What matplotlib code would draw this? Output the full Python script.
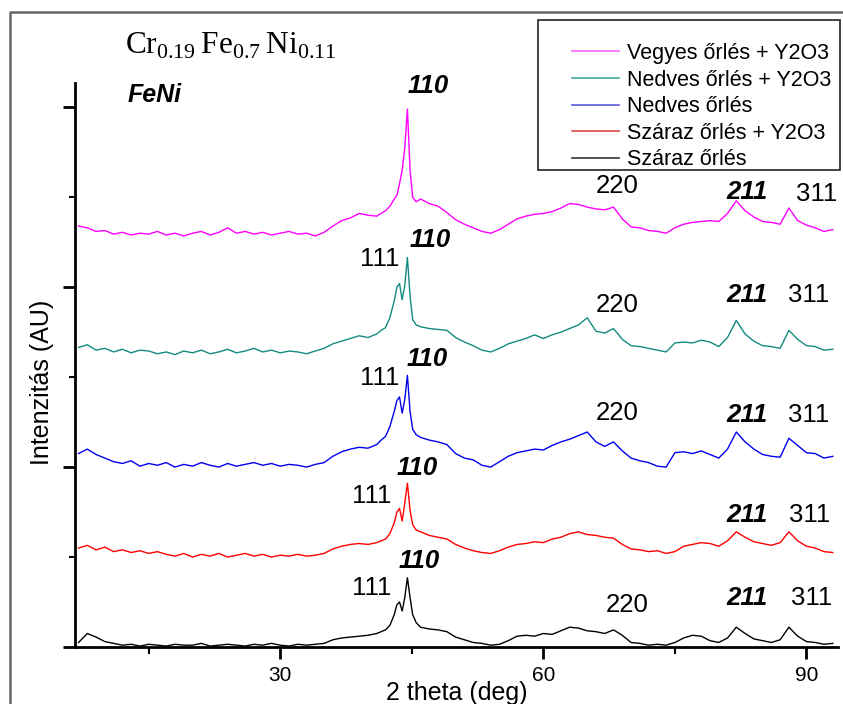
import matplotlib
matplotlib.use('Agg')
import matplotlib.pyplot as plt
from matplotlib.lines import Line2D
from matplotlib.patches import Rectangle

plt.rcParams['font.family'] = ['Liberation Sans', 'DejaVu Sans']
plt.rcParams['mathtext.fontset'] = 'custom'
plt.rcParams['mathtext.rm'] = 'Liberation Serif'

# 2 theta grid (deg), finer around the main peak
two_theta = list(range(7, 42)) + [41.5, 42, 42.5, 43, 43.3, 43.6, 43.9, 44.2, 44.5, 44.8, 45.1, 45.5, 46] + list(range(47, 94))

# intensities (AU, stacked)
szaraz = [0.05, 0.15, 0.11, 0.06, 0.04, 0.02, 0.03,
          0.01, 0.03, 0.02, 0.01, 0.03, 0.02, 0.02, 0.04, 0.01, 0.02,
          0.03, 0.02, 0.01, 0.03, 0.02, 0.04, 0.02, 0.01, 0.03, 0.02,
          0.03, 0.04, 0.08, 0.10, 0.11, 0.12, 0.13, 0.15,
          0.17, 0.19, 0.24, 0.36, 0.47, 0.50, 0.40, 0.55, 0.77, 0.55, 0.36, 0.27, 0.22,
          0.20, 0.19, 0.17, 0.11, 0.08, 0.05, 0.04, 0.02, 0.03, 0.07,
          0.12, 0.13, 0.12, 0.15, 0.14, 0.18, 0.22, 0.21, 0.18, 0.17,
          0.15, 0.19, 0.13, 0.05, 0.04, 0.02, 0.03, 0.02, 0.05, 0.10,
          0.13, 0.12, 0.07, 0.05, 0.10, 0.22, 0.15, 0.09, 0.07, 0.05,
          0.08, 0.22, 0.12, 0.06, 0.05, 0.03, 0.04]
szaraz_y2o3 = [1.10, 1.13, 1.08, 1.11, 1.06, 1.08, 1.05,
               1.07, 1.04, 1.06, 1.03, 1.01, 1.04, 1.00, 1.03, 1.01, 1.04,
               1.00, 1.02, 1.04, 1.01, 1.03, 1.00, 1.02, 1.01, 1.03, 1.01,
               1.02, 1.04, 1.09, 1.12, 1.14, 1.15, 1.14, 1.16,
               1.18, 1.20, 1.26, 1.38, 1.50, 1.54, 1.40, 1.60, 1.82, 1.52, 1.36, 1.30, 1.28,
               1.24, 1.22, 1.20, 1.14, 1.10, 1.07, 1.05, 1.04, 1.07, 1.11,
               1.14, 1.15, 1.17, 1.16, 1.20, 1.22, 1.26, 1.28, 1.25, 1.24,
               1.22, 1.21, 1.14, 1.09, 1.08, 1.06, 1.07, 1.04, 1.06, 1.12,
               1.14, 1.16, 1.15, 1.12, 1.18, 1.28, 1.22, 1.17, 1.15, 1.13,
               1.16, 1.28, 1.18, 1.12, 1.10, 1.06, 1.05]
nedves = [2.15, 2.20, 2.14, 2.10, 2.06, 2.04, 2.07,
          2.01, 2.04, 2.02, 2.05, 2.00, 2.03, 2.01, 2.05, 2.02, 2.00,
          2.04, 2.01, 2.03, 2.05, 2.02, 2.04, 2.01, 2.03, 2.02, 2.00,
          2.03, 2.05, 2.12, 2.17, 2.20, 2.22, 2.21, 2.25,
          2.30, 2.34, 2.45, 2.62, 2.74, 2.78, 2.60, 2.75, 3.02, 2.62, 2.42, 2.36, 2.33,
          2.30, 2.28, 2.25, 2.15, 2.10, 2.08, 2.02, 2.00, 2.06, 2.12,
          2.16, 2.18, 2.20, 2.19, 2.24, 2.28, 2.31, 2.35, 2.39, 2.28,
          2.23, 2.28, 2.18, 2.10, 2.07, 2.05, 2.01, 2.00, 2.16, 2.17,
          2.15, 2.18, 2.14, 2.10, 2.20, 2.39, 2.28, 2.20, 2.14, 2.12,
          2.11, 2.32, 2.24, 2.16, 2.15, 2.10, 2.12]
nedves_y2o3 = [3.33, 3.36, 3.30, 3.32, 3.28, 3.31, 3.27,
               3.30, 3.29, 3.26, 3.28, 3.25, 3.29, 3.27, 3.30, 3.26, 3.28,
               3.31, 3.27, 3.29, 3.32, 3.28, 3.30, 3.27, 3.29, 3.28, 3.26,
               3.29, 3.32, 3.37, 3.40, 3.43, 3.46, 3.44, 3.48,
               3.52, 3.55, 3.66, 3.85, 4.00, 4.04, 3.86, 4.02, 4.33, 3.90, 3.64, 3.58, 3.56,
               3.54, 3.53, 3.52, 3.44, 3.39, 3.35, 3.30, 3.28, 3.32, 3.37,
               3.40, 3.43, 3.47, 3.43, 3.47, 3.50, 3.54, 3.58, 3.66, 3.51,
               3.49, 3.54, 3.42, 3.35, 3.34, 3.32, 3.30, 3.28, 3.38, 3.39,
               3.38, 3.41, 3.39, 3.34, 3.44, 3.63, 3.48, 3.40, 3.35, 3.34,
               3.32, 3.52, 3.42, 3.35, 3.34, 3.30, 3.31]
vegyes_y2o3 = [4.68, 4.66, 4.62, 4.63, 4.59, 4.61, 4.58,
               4.60, 4.59, 4.62, 4.58, 4.60, 4.57, 4.60, 4.62, 4.58, 4.61,
               4.66, 4.60, 4.62, 4.59, 4.61, 4.58, 4.60, 4.62, 4.59, 4.60,
               4.57, 4.61, 4.68, 4.74, 4.77, 4.82, 4.80, 4.79,
               4.82, 4.85, 4.90, 4.98, 5.02, 5.15, 5.30, 5.55, 5.98, 5.30, 5.00, 4.95, 4.98,
               4.93, 4.90, 4.83, 4.75, 4.70, 4.66, 4.62, 4.60, 4.64, 4.70,
               4.76, 4.79, 4.81, 4.82, 4.84, 4.88, 4.93, 4.92, 4.89, 4.87,
               4.86, 4.89, 4.76, 4.67, 4.66, 4.63, 4.62, 4.60, 4.66, 4.70,
               4.72, 4.73, 4.74, 4.73, 4.82, 4.96, 4.85, 4.78, 4.73, 4.72,
               4.70, 4.88, 4.74, 4.69, 4.66, 4.62, 4.64]

series = [
    ('Vegyes őrlés + Y2O3', vegyes_y2o3, '#ff00ff', '#ff66ff'),
    ('Nedves őrlés + Y2O3', nedves_y2o3, '#138a80', '#40a89c'),
    ('Nedves őrlés', nedves, '#0000ee', '#5a5ae0'),
    ('Száraz őrlés + Y2O3', szaraz_y2o3, '#ff0000', '#e04a4a'),
    ('Száraz őrlés', szaraz, '#000000', '#333333'),
]

# peak labels: (text, 2theta, y, bold-italic?)
peak_labels = [
    ('110', 46.9, 6.24, True), ('220', 68.4, 5.13, False), ('211', 83.2, 5.06, True), ('311', 91.2, 5.04, False),
    ('111', 41.3, 4.31, False), ('110', 47.1, 4.52, True), ('220', 68.4, 3.80, False), ('211', 83.2, 3.91, True), ('311', 90.2, 3.91, False),
    ('111', 41.3, 2.99, False), ('110', 46.8, 3.20, True), ('220', 68.4, 2.60, False), ('211', 83.2, 2.58, True), ('311', 90.2, 2.58, False),
    ('111', 40.4, 1.68, False), ('110', 45.6, 1.99, True), ('211', 83.2, 1.47, True), ('311', 90.4, 1.47, False),
    ('111', 40.4, 0.66, False), ('110', 45.8, 0.96, True), ('220', 69.6, 0.47, False), ('211', 83.2, 0.54, True), ('311', 90.6, 0.54, False),
]

fig = plt.figure(figsize=(8.43, 7.04), dpi=100)
ax = fig.add_axes([0.0890, 0.0810, 0.9051, 0.8011])

for name, vals, col, lcol in reversed(series):
    ax.plot(two_theta, vals, color=col, lw=1.0)

for txt, xp, yp, bi in peak_labels:
    if bi:
        ax.text(xp, yp, txt, ha='center', va='center', fontsize=18.5, fontweight='bold', fontstyle='italic')
    else:
        ax.text(xp, yp, txt, ha='center', va='center', fontsize=18.5)

ax.set_xlim(6.6, 93.6)
ax.set_ylim(0, 6.27)
ax.set_xticks([30, 60, 90])
ax.set_xticks([15, 45, 75], minor=True)
ax.set_yticks([0, 2, 4, 6])
ax.set_yticks([1, 3, 5], minor=True)
ax.set_yticklabels([])
for s in ['top', 'right']:
    ax.spines[s].set_visible(False)
for s in ['left', 'bottom']:
    ax.spines[s].set_linewidth(2)
ax.tick_params(axis='x', which='major', length=8.5, width=2, labelsize=15, pad=5)
ax.tick_params(axis='x', which='minor', length=5, width=1.5)
ax.tick_params(axis='y', which='major', length=8.5, width=2)
ax.tick_params(axis='y', which='minor', length=4.5, width=1.5)

ax.set_xlabel('2 theta (deg)', fontsize=18, labelpad=-3)
ax.set_ylabel('Intenzitás (AU)', fontsize=18)
ax.yaxis.set_label_coords(-0.028, 0.47)

# composition title and phase tag
fig.text(125 / 843, 1 - 46 / 704, r'$\mathrm{Cr}_{0.19}\,\mathrm{Fe}_{0.7}\,\mathrm{Ni}_{0.11}$',
         fontsize=22.5, ha='left', va='center')
fig.text(128 / 843, 1 - 95 / 704, 'FeNi', fontsize=18, fontweight='bold', fontstyle='italic',
         ha='left', va='center')

handles = [Line2D([], [], color=lcol, lw=1.2) for name, vals, col, lcol in series]
labels = [name for name, vals, col, lcol in series]
fig.legend(handles, labels, loc='upper left', bbox_to_anchor=(572 / 843, 1 - 43 / 704),
           frameon=False, fontsize=15.5, handlelength=2.2, handletextpad=0.35,
           labelspacing=0.26, borderpad=0, borderaxespad=0)
fig.add_artist(Rectangle((538 / 843, 1 - 170 / 704), 302 / 843, 150 / 704,
                         transform=fig.transFigure, fill=False, ec='#222222', lw=1.2))

# gray outer frame of the original figure
fig.add_artist(Line2D([10 / 843, 10 / 843, 1.0], [0.0, 1 - 12 / 704, 1 - 12 / 704],
                      transform=fig.transFigure, color='#666666', lw=1.8))

fig.savefig('out.png', dpi=100)
